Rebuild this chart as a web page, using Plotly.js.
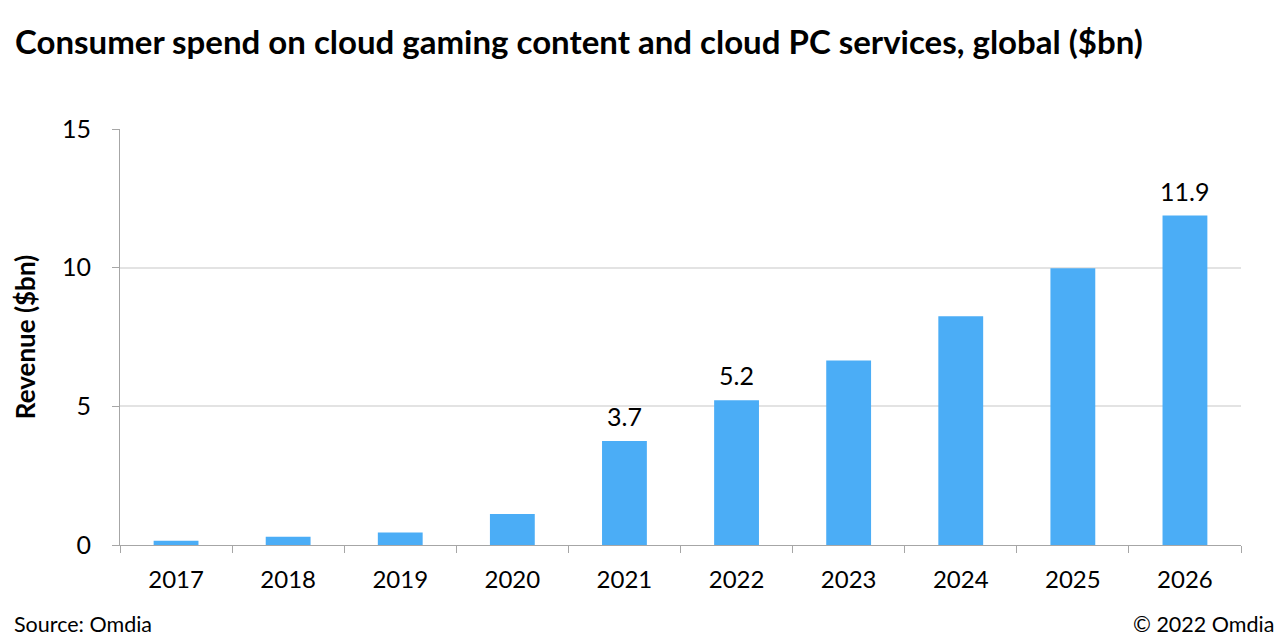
<!DOCTYPE html>
<html>
<head>
<meta charset="utf-8">
<script src="https://cdn.plot.ly/plotly-3.0.1.min.js"></script>
<style>html,body{margin:0;padding:0;background:#fff;}#chart{width:1280px;height:641px;}</style>
</head>
<body>
<div id="chart"></div>
<script>
const years = ["2017","2018","2019","2020","2021","2022","2023","2024","2025","2026"];
const revenue = [0.15, 0.3, 0.45, 1.12, 3.75, 5.22, 6.65, 8.25, 9.98, 11.88];
const barLabels = ["", "", "", "", "3.7", "5.2", "", "", "", "11.9"];
const yTicks = [0, 5, 10, 15];

const FONT = "Lato, 'Open Sans', sans-serif";

const trace = {
  type: "bar",
  x: years,
  y: revenue,
  marker: {color: "#4badf6"},
  width: 0.4,
  hoverinfo: "x+y"
};

const labelAnns = [];
years.forEach((yr, i) => {
  if (barLabels[i]) {
    labelAnns.push({
      x: i, y: revenue[i], xref: "x", yref: "y",
      text: barLabels[i], showarrow: false,
      xanchor: "center", yanchor: "bottom", yshift: 8,
      font: {family: FONT, size: 25, color: "#000"}
    });
  }
});

const layout = {
  width: 1280, height: 641,
  margin: {l: 120, r: 39, t: 129, b: 96},
  paper_bgcolor: "#fff", plot_bgcolor: "#fff",
  showlegend: false,
  font: {family: FONT, color: "#000"},
  title: {
    text: "<b>Consumer spend on cloud gaming content and cloud PC services, global ($bn)</b>",
    font: {family: FONT, size: 33, color: "#000"},
    x: 15 / 1280, xanchor: "left", xref: "container",
    y: 1 - 42 / 641, yanchor: "middle", yref: "container"
  },
  xaxis: {
    type: "category",
    categoryorder: "array", categoryarray: years,
    range: [-0.5, years.length - 0.5],
    tickfont: {family: FONT, size: 24, color: "#000"},
    showline: true, linecolor: "#a6a6a6", linewidth: 1,
    ticks: "outside", tickson: "boundaries", ticklen: 7, tickcolor: "#a6a6a6",
    ticklabelstandoff: 13,
    showgrid: false, zeroline: false
  },
  yaxis: {
    range: [0, 15],
    tickvals: yTicks,
    tickfont: {family: FONT, size: 25, color: "#000"},
    showline: true, linecolor: "#a6a6a6", linewidth: 1,
    ticks: "outside", ticklen: 7, tickcolor: "#a6a6a6",
    ticklabelstandoff: 16,
    showgrid: true, gridcolor: "#e3e3e3", gridwidth: 2,
    zeroline: false,
    title: {text: "<b>Revenue ($bn)</b>", font: {family: FONT, size: 26, color: "#000"}, standoff: 18}
  },
  annotations: labelAnns
};
const plotW = 1280 - 120 - 39, plotH = 641 - 129 - 96;
layout.annotations.push(
  {text: "Source: Omdia", x: (12 - 120) / plotW, y: (641 - 96 - 624) / plotH, xref: "paper", yref: "paper", showarrow: false,
   font: {family: FONT, size: 21.5, color: "#000"}, xanchor: "left", yanchor: "middle"},
  {text: "© 2022 Omdia", x: (1276 - 120) / plotW, y: (641 - 96 - 624) / plotH, xref: "paper", yref: "paper", showarrow: false,
   font: {family: FONT, size: 21.5, color: "#000"}, xanchor: "right", yanchor: "middle"}
);

Plotly.newPlot("chart", [trace], layout, {displayModeBar: false, staticPlot: true});
</script>
</body>
</html>
